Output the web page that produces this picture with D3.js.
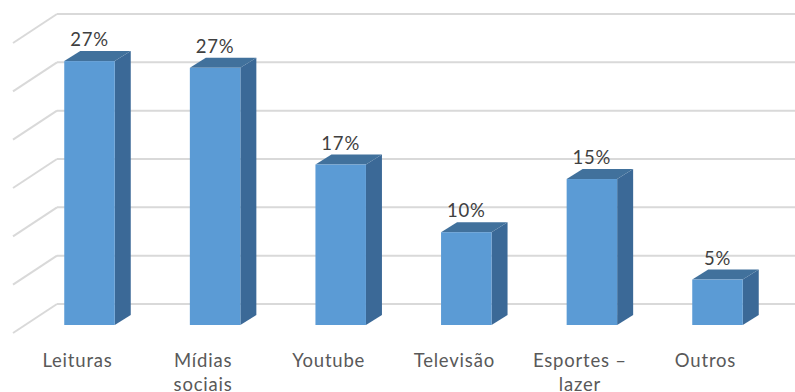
<!DOCTYPE html>
<html><head><meta charset="utf-8">
<script src="https://cdn.jsdelivr.net/npm/d3@7"></script>
<style>body{margin:0;background:#fff}svg{display:block}</style>
</head><body><svg id="c" width="795" height="392"></svg>
<script>
const categories = ["Leituras", "Mídias sociais", "Youtube", "Televisão", "Esportes – lazer", "Outros"];
const labelLines = [["Leituras"], ["Mídias", "sociais"], ["Youtube"], ["Televisão"], ["Esportes –", "lazer"], ["Outros"]];
const values = [0.273, 0.266, 0.166, 0.096, 0.151, 0.047];
const yTicks = [0, 0.05, 0.10, 0.15, 0.20, 0.25, 0.30];

const svg = d3.select("#c");
const W = 795, H = 392;
// oblique geometry
const wallDX = 44, wallDY = -29;    // side wall depth
const barDX = 16, barDY = -10;      // bar depth
const backLeft = 57;
const yBack = d3.scaleLinear().domain([0, 0.30]).range([304, 14]);
const yFront = d3.scaleLinear().domain([0, 0.30]).range([325, 35]);
const x = d3.scalePoint().domain(categories).range([26.7, 780.3]).padding(0.5);
const bw = 50.5;

// gridlines: back wall + side wall
const g = svg.append("g");
yTicks.forEach(t => {
  const yb = yBack(t);
  g.append("line").attr("x1", backLeft).attr("x2", W).attr("y1", yb).attr("y2", yb)
    .attr("stroke", "#d9d9d9").attr("stroke-width", 2);
  g.append("line").attr("x1", backLeft - wallDX).attr("y1", yb - wallDY).attr("x2", backLeft).attr("y2", yb)
    .attr("stroke", "#d9d9d9").attr("stroke-width", 2);
});

// bars
const bars = svg.append("g").selectAll("g").data(categories).join("g");
bars.each(function(c, i) {
  const gg = d3.select(this);
  const x0 = x(c) - bw / 2, x1 = x(c) + bw / 2;
  const yt = yFront(values[i]), yb = yFront(0);
  // side face
  gg.append("path").attr("d", `M${x1},${yb}L${x1 + barDX},${yb + barDY}L${x1 + barDX},${yt + barDY}L${x1},${yt}Z`)
    .attr("fill", "#3b6997");
  // top face
  gg.append("path").attr("d", `M${x0},${yt}L${x0 + barDX},${yt + barDY}L${x1 + barDX},${yt + barDY}L${x1},${yt}Z`)
    .attr("fill", "#41719c");
  // front face
  gg.append("rect").attr("x", x0).attr("y", yt).attr("width", bw).attr("height", yb - yt)
    .attr("fill", "#5b9bd5");
  // value label
  gg.append("text").attr("x", x(c)).attr("y", yt + barDY - 5)
    .attr("text-anchor", "middle").attr("font-family", "Lato, sans-serif").attr("font-size", 18.5)
    .attr("letter-spacing", 0.8).attr("fill", "#404040").text(d3.format(".0%")(values[i]));
  // category label
  const t = gg.append("text").attr("text-anchor", "middle").attr("font-family", "Lato, sans-serif")
    .attr("font-size", 18.5).attr("letter-spacing", 0.8).attr("fill", "#595959");
  labelLines[i].forEach((ln, k) => {
    t.append("tspan").attr("x", x(c) - 12).attr("y", 367 + k * 24).text(ln);
  });
});
</script></body></html>
